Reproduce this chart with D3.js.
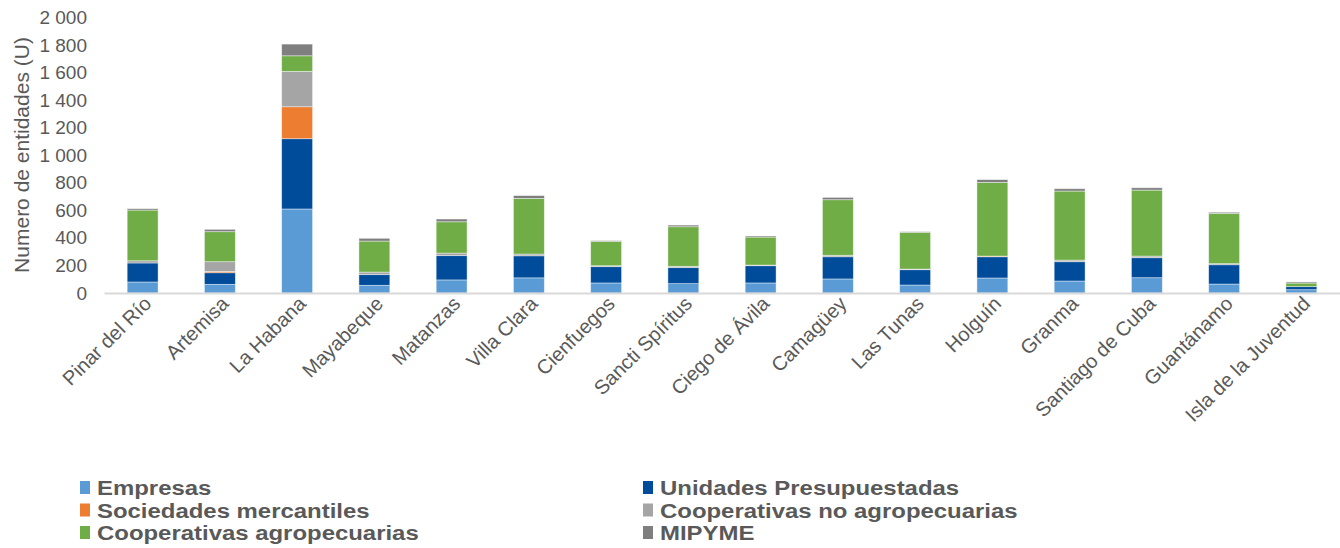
<!DOCTYPE html>
<html><head><meta charset="utf-8">
<script src="https://cdn.jsdelivr.net/npm/d3@7"></script>
<style>
html,body{margin:0;padding:0;background:#fff;}
svg{display:block;font-family:"Liberation Sans",Arial,sans-serif;}
</style></head>
<body><svg id="c" width="1340" height="548"></svg>
<script>
const categories = ["Pinar del Río","Artemisa","La Habana","Mayabeque","Matanzas","Villa Clara","Cienfuegos","Sancti Spíritus","Ciego de Ávila","Camagüey","Las Tunas","Holguín","Granma","Santiago de Cuba","Guantánamo","Isla de la Juventud"];
const seriesNames = ["Empresas","Unidades Presupuestadas","Sociedades mercantiles","Cooperativas no agropecuarias","Cooperativas agropecuarias","MIPYME"];
const empresas   = [80, 63, 610, 56, 95, 110, 73, 68, 73, 102, 58, 109, 87, 111, 65, 24];
const unidades   = [138, 84, 510, 77, 176, 160, 118, 116, 125, 161, 111, 154, 140, 145, 140, 22];
const sociedades = [0, 10, 232, 0, 0, 0, 0, 0, 0, 0, 0, 5, 0, 0, 0, 0];
const coopNoAgro = [16, 70, 257, 19, 19, 13, 7, 10, 5, 11, 5, 0, 12, 12, 8, 0];
const coopAgro   = [368, 218, 113, 225, 227, 404, 177, 287, 203, 403, 266, 535, 501, 479, 365, 26];
const mipyme     = [10, 17, 85, 20, 20, 20, 5, 12, 8, 17, 5, 20, 17, 17, 8, 8];
const yTicks = [0,200,400,600,800,1000,1200,1400,1600,1800,2000];
const colors = ["#5B9BD5","#004C9B","#ED7D31","#A5A5A5","#70AD47","#7F7F7F"];

const seriesArrays = [empresas, unidades, sociedades, coopNoAgro, coopAgro, mipyme];
const keys = seriesNames;
const table = categories.map((c,i)=>{const o={cat:c}; keys.forEach((k,j)=>o[k]=seriesArrays[j][i]); return o;});
const stacked = d3.stack().keys(keys)(table);

const svg = d3.select("#c");
const FONT = "'Liberation Sans', Arial, sans-serif";
const x0 = 104, x1 = 1340, yBase = 293, yTop = 17.5;
const x = d3.scaleBand().domain(categories).range([x0,x1]).paddingInner(0.6).paddingOuter(0.3);
const y = d3.scaleLinear().domain([0,2000]).range([yBase,yTop]);
const fmt = v => d3.format(",")(v).replace(/,/g," ");

// y axis labels
const ya = svg.append("g").attr("transform","translate(87,0)")
  .call(d3.axisLeft(y).tickValues(yTicks).tickFormat(fmt).tickSize(0).tickPadding(0));
ya.select(".domain").remove();
ya.selectAll("text").attr("font-size","19px").attr("fill","#595959").attr("font-family",FONT);

// y title
svg.append("text").attr("transform","translate(29,155) rotate(-90)")
  .attr("text-anchor","middle").attr("font-size","21px").attr("fill","#595959").attr("font-family",FONT)
  .text("Numero de entidades (U)");

// bars
svg.append("g").selectAll("g").data(stacked).join("g")
  .attr("fill",(d,i)=>colors[i])
  .selectAll("rect").data(d=>d).join("rect")
  .attr("x",d=>x(d.data.cat)).attr("width",x.bandwidth())
  .attr("y",d=>y(d[1])).attr("height",d=>Math.max(0,y(d[0])-y(d[1])))
  .attr("stroke","#fff").attr("stroke-opacity",0.55).attr("stroke-width",0.75);

// x axis
const xa = svg.append("g").attr("transform",`translate(0,${yBase})`)
  .call(d3.axisBottom(x).tickSize(0).tickPadding(0));
xa.select(".domain").attr("stroke","#D9D9D9").attr("stroke-width",2);
xa.selectAll("text").attr("font-size","20px").attr("fill","#595959")
  .attr("font-family",FONT)
  .attr("text-anchor","end").attr("dy","0.35em")
  .attr("transform","translate(5,7) rotate(-45)");

// legend
const leg = svg.append("g");
const legPos = [[80,488],[643,488],[80,510.5],[643,510.5],[80,533],[643,533]];
seriesNames.forEach((name,i)=>{
  const [lx,ly] = legPos[i];
  leg.append("rect").attr("x",lx).attr("y",ly-7).attr("width",10).attr("height",13).attr("fill",colors[i]);
  leg.append("text").attr("transform",`translate(${lx+17},${ly}) scale(1.14,1)`)
    .attr("dy","0.35em").attr("font-family",FONT)
    .attr("font-size","21px").attr("font-weight","bold").attr("fill","#595959").text(name);
});
</script></body></html>
